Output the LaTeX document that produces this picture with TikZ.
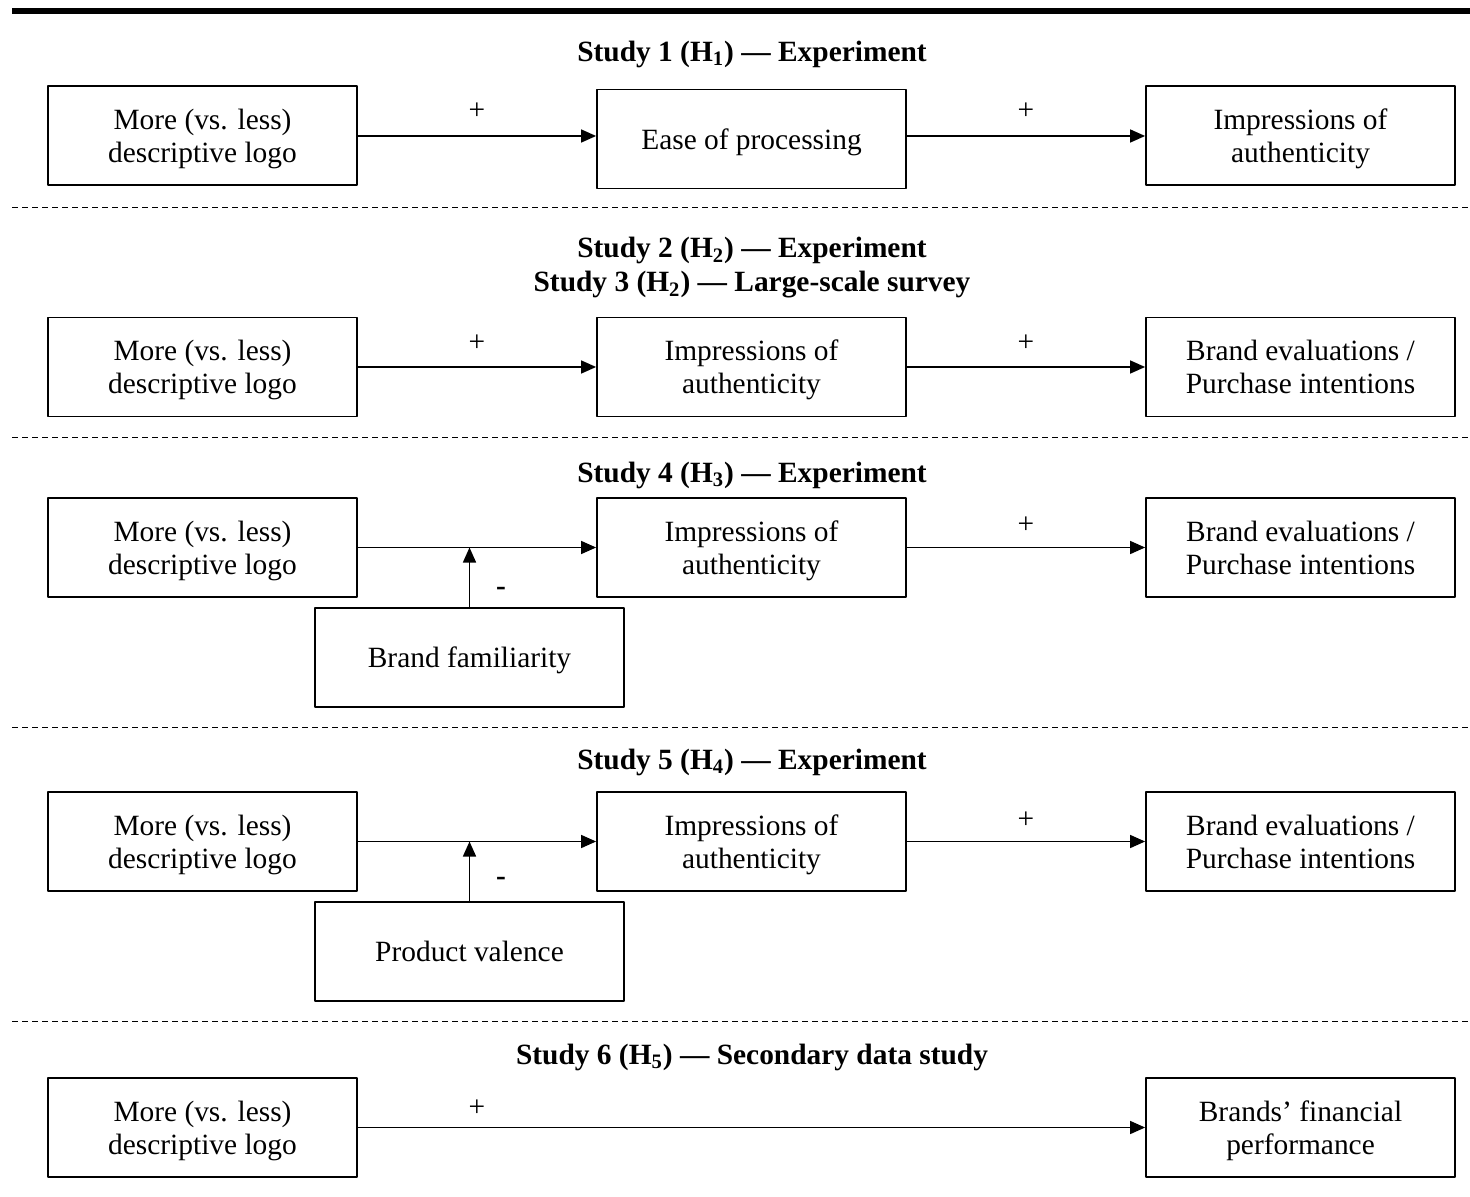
\documentclass[tikz,border=0pt]{standalone}
\usepackage{fontspec}
\setmainfont{Liberation Serif}
\usetikzlibrary{arrows.meta}
\begin{document}
\begin{tikzpicture}[x=0.5pt,y=-0.5pt, line join=round, font=\fontsize{14.7}{16.5}\selectfont,
  >={Triangle[length=7.5pt,width=6.5pt]},
  box/.style={draw,line width=0.9pt,minimum width=154.5pt,minimum height=49.5pt,align=center,inner sep=2pt,text depth=-3.6pt},
  head/.style={font=\fontsize{14.7}{17}\selectfont\bfseries,align=center},
  link/.style={->,line width=0.75pt},
  sep/.style={line width=0.5pt,dash pattern=on 3pt off 2pt}]
\useasboundingbox (0,0) rectangle (1470,1197);
\draw[line width=3pt] (12,11)--(1470,11);
\foreach \y in {208,437,727,1021}\draw[sep] (12,\y)--(1470,\y);
% study 1
\node[head] (h1) at (752,54) {Study 1 (H\textsubscript{1}) --- Experiment};
\node[box] (a1) at (202.5,135.5) {More (vs. less)\\descriptive logo};
\node[box] (b1) at (751.5,139) {Ease of processing};
\node[box] (c1) at (1300.5,135.5) {Impressions of\\authenticity};
\draw[link] (a1.east|-0,136)--(b1.west|-0,136);
\draw[link] (b1.east|-0,136)--(c1.west|-0,136);
\node (p1a) at (477,111) {+};
\node (p1b) at (1026,111) {+};
% study 2 and 3
\node[head] (h2) at (752,268) {Study 2 (H\textsubscript{2}) --- Experiment\\Study 3 (H\textsubscript{2}) --- Large-scale survey};
\node[box] (a2) at (202.5,367) {More (vs. less)\\descriptive logo};
\node[box] (b2) at (751.5,367) {Impressions of\\authenticity};
\node[box] (c2) at (1300.5,367) {Brand evaluations /\\Purchase intentions};
\draw[link] (a2)--(b2);
\draw[link] (b2)--(c2);
\node (p2a) at (477,343) {+};
\node (p2b) at (1026,343) {+};
% study 4
\node[head] (h4) at (752,475) {Study 4 (H\textsubscript{3}) --- Experiment};
\node[box] (a4) at (202.5,547.5) {More (vs. less)\\descriptive logo};
\node[box] (b4) at (751.5,547.5) {Impressions of\\authenticity};
\node[box] (c4) at (1300.5,547.5) {Brand evaluations /\\Purchase intentions};
\node[box] (m4) at (469.5,657.5) {Brand familiarity};
\draw[link] (a4)--(b4);
\draw[link] (b4)--(c4);
\draw[link] (m4.north)--(m4.north|-a4.east);
\node (p4) at (1026,525) {+};
\node[font=\fontsize{14.7}{16.5}\selectfont\bfseries] (n4) at (501,591) {-};
% study 5
\node[head] (h5) at (752,762) {Study 5 (H\textsubscript{4}) --- Experiment};
\node[box] (a5) at (202.5,841.5) {More (vs. less)\\descriptive logo};
\node[box] (b5) at (751.5,841.5) {Impressions of\\authenticity};
\node[box] (c5) at (1300.5,841.5) {Brand evaluations /\\Purchase intentions};
\node[box] (m5) at (469.5,951.5) {Product valence};
\draw[link] (a5)--(b5);
\draw[link] (b5)--(c5);
\draw[link] (m5.north)--(m5.north|-a5.east);
\node (p5) at (1026,820) {+};
\node[font=\fontsize{14.7}{16.5}\selectfont\bfseries] (n5) at (501,881) {-};
% study 6
\node[head] (h6) at (752,1057) {Study 6 (H\textsubscript{5}) --- Secondary data study};
\node[box] (a6) at (202.5,1127.5) {More (vs. less)\\descriptive logo};
\node[box] (c6) at (1300.5,1127.5) {Brands’ financial\\performance};
\draw[link] (a6)--(c6);
\node (p6) at (477,1108) {+};
\end{tikzpicture}
\end{document}
